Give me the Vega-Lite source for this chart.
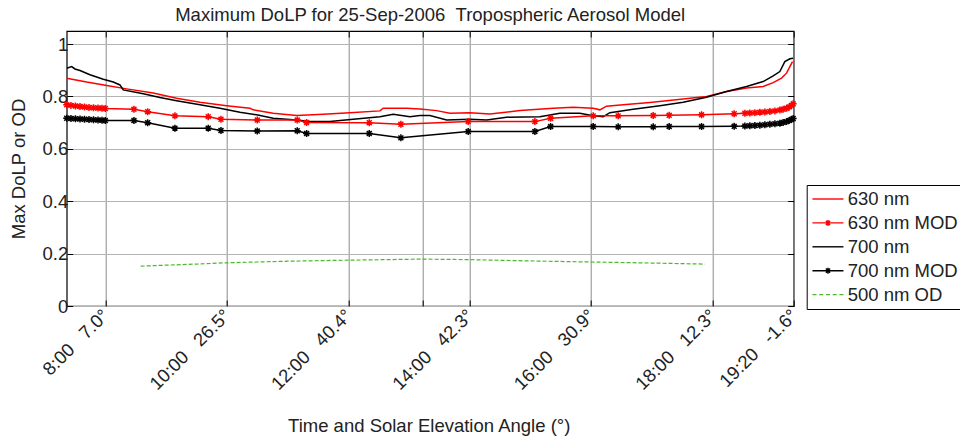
{
  "$schema": "https://vega.github.io/schema/vega-lite/v6.json",
  "width": 727,
  "height": 275,
  "autosize": {"type": "none"},
  "padding": {"left": 66.7, "top": 31, "right": 166.3, "bottom": 134},
  "background": "white",
  "title": {"text": "Maximum DoLP for 25-Sep-2006\u00a0\u00a0Tropospheric Aerosol Model", "fontSize": 18.5, "font": "Liberation Sans", "fontWeight": "normal", "color": "#222", "anchor": "middle", "baseline": "alphabetic", "offset": 10, "dy": 19},
  "config": {"view": {"stroke": "#000", "strokeWidth": 1.2}, "font": "Liberation Sans"},
  "datasets": {
    "d": [
      {"series": "630 nm", "time": 7.365, "value": 0.870},
      {"series": "630 nm", "time": 7.694, "value": 0.855},
      {"series": "630 nm", "time": 8.023, "value": 0.842},
      {"series": "630 nm", "time": 8.352, "value": 0.829},
      {"series": "630 nm", "time": 8.790, "value": 0.813},
      {"series": "630 nm", "time": 9.175, "value": 0.793},
      {"series": "630 nm", "time": 9.559, "value": 0.778},
      {"series": "630 nm", "time": 9.998, "value": 0.765},
      {"series": "630 nm", "time": 10.382, "value": 0.755},
      {"series": "630 nm", "time": 10.436, "value": 0.749},
      {"series": "630 nm", "time": 10.765, "value": 0.736},
      {"series": "630 nm", "time": 11.151, "value": 0.727},
      {"series": "630 nm", "time": 11.588, "value": 0.732},
      {"series": "630 nm", "time": 12.028, "value": 0.738},
      {"series": "630 nm", "time": 12.522, "value": 0.745},
      {"series": "630 nm", "time": 12.576, "value": 0.755},
      {"series": "630 nm", "time": 12.961, "value": 0.755},
      {"series": "630 nm", "time": 13.180, "value": 0.752},
      {"series": "630 nm", "time": 13.455, "value": 0.746},
      {"series": "630 nm", "time": 13.674, "value": 0.736},
      {"series": "630 nm", "time": 14.003, "value": 0.738},
      {"series": "630 nm", "time": 14.333, "value": 0.733},
      {"series": "630 nm", "time": 14.827, "value": 0.746},
      {"series": "630 nm", "time": 15.375, "value": 0.755},
      {"series": "630 nm", "time": 15.704, "value": 0.759},
      {"series": "630 nm", "time": 16.033, "value": 0.755},
      {"series": "630 nm", "time": 16.143, "value": 0.749},
      {"series": "630 nm", "time": 16.253, "value": 0.763},
      {"series": "630 nm", "time": 16.527, "value": 0.768},
      {"series": "630 nm", "time": 16.966, "value": 0.777},
      {"series": "630 nm", "time": 17.514, "value": 0.790},
      {"series": "630 nm", "time": 17.899, "value": 0.800},
      {"series": "630 nm", "time": 18.229, "value": 0.819},
      {"series": "630 nm", "time": 18.558, "value": 0.832},
      {"series": "630 nm", "time": 18.831, "value": 0.838},
      {"series": "630 nm", "time": 18.996, "value": 0.853},
      {"series": "630 nm", "time": 19.134, "value": 0.870},
      {"series": "630 nm", "time": 19.216, "value": 0.889},
      {"series": "630 nm", "time": 19.271, "value": 0.914},
      {"series": "630 nm", "time": 19.315, "value": 0.933},

      {"series": "700 nm", "time": 7.365, "value": 0.908},
      {"series": "700 nm", "time": 7.447, "value": 0.914},
      {"series": "700 nm", "time": 7.501, "value": 0.905},
      {"series": "700 nm", "time": 7.584, "value": 0.899},
      {"series": "700 nm", "time": 7.748, "value": 0.883},
      {"series": "700 nm", "time": 7.967, "value": 0.866},
      {"series": "700 nm", "time": 8.132, "value": 0.855},
      {"series": "700 nm", "time": 8.242, "value": 0.844},
      {"series": "700 nm", "time": 8.296, "value": 0.825},
      {"series": "700 nm", "time": 8.626, "value": 0.810},
      {"series": "700 nm", "time": 8.900, "value": 0.796},
      {"series": "700 nm", "time": 9.175, "value": 0.784},
      {"series": "700 nm", "time": 9.559, "value": 0.768},
      {"series": "700 nm", "time": 9.888, "value": 0.755},
      {"series": "700 nm", "time": 10.217, "value": 0.740},
      {"series": "700 nm", "time": 10.492, "value": 0.730},
      {"series": "700 nm", "time": 10.765, "value": 0.717},
      {"series": "700 nm", "time": 11.151, "value": 0.710},
      {"series": "700 nm", "time": 11.370, "value": 0.704},
      {"series": "700 nm", "time": 11.699, "value": 0.704},
      {"series": "700 nm", "time": 12.082, "value": 0.713},
      {"series": "700 nm", "time": 12.522, "value": 0.723},
      {"series": "700 nm", "time": 12.741, "value": 0.732},
      {"series": "700 nm", "time": 13.016, "value": 0.723},
      {"series": "700 nm", "time": 13.180, "value": 0.727},
      {"series": "700 nm", "time": 13.345, "value": 0.727},
      {"series": "700 nm", "time": 13.620, "value": 0.710},
      {"series": "700 nm", "time": 14.003, "value": 0.713},
      {"series": "700 nm", "time": 14.278, "value": 0.710},
      {"series": "700 nm", "time": 14.607, "value": 0.721},
      {"series": "700 nm", "time": 15.155, "value": 0.723},
      {"series": "700 nm", "time": 15.485, "value": 0.736},
      {"series": "700 nm", "time": 15.814, "value": 0.736},
      {"series": "700 nm", "time": 16.033, "value": 0.726},
      {"series": "700 nm", "time": 16.198, "value": 0.723},
      {"series": "700 nm", "time": 16.308, "value": 0.738},
      {"series": "700 nm", "time": 16.691, "value": 0.751},
      {"series": "700 nm", "time": 17.131, "value": 0.765},
      {"series": "700 nm", "time": 17.514, "value": 0.778},
      {"series": "700 nm", "time": 17.899, "value": 0.797},
      {"series": "700 nm", "time": 18.229, "value": 0.819},
      {"series": "700 nm", "time": 18.558, "value": 0.838},
      {"series": "700 nm", "time": 18.831, "value": 0.857},
      {"series": "700 nm", "time": 18.996, "value": 0.879},
      {"series": "700 nm", "time": 19.106, "value": 0.895},
      {"series": "700 nm", "time": 19.188, "value": 0.933},
      {"series": "700 nm", "time": 19.271, "value": 0.944},
      {"series": "700 nm", "time": 19.325, "value": 0.946},

      {"series": "630 nm MOD", "time": 7.365, "value": 0.768},
      {"series": "630 nm MOD", "time": 7.435, "value": 0.766},
      {"series": "630 nm MOD", "time": 7.509, "value": 0.764},
      {"series": "630 nm MOD", "time": 7.584, "value": 0.762},
      {"series": "630 nm MOD", "time": 7.658, "value": 0.760},
      {"series": "630 nm MOD", "time": 7.732, "value": 0.758},
      {"series": "630 nm MOD", "time": 7.806, "value": 0.757},
      {"series": "630 nm MOD", "time": 7.880, "value": 0.756},
      {"series": "630 nm MOD", "time": 7.946, "value": 0.755},
      {"series": "630 nm MOD", "time": 8.000, "value": 0.754},
      {"series": "630 nm MOD", "time": 8.472, "value": 0.751},
      {"series": "630 nm MOD", "time": 8.698, "value": 0.742},
      {"series": "630 nm MOD", "time": 9.147, "value": 0.726},
      {"series": "630 nm MOD", "time": 9.695, "value": 0.723},
      {"series": "630 nm MOD", "time": 9.905, "value": 0.713},
      {"series": "630 nm MOD", "time": 10.502, "value": 0.710},
      {"series": "630 nm MOD", "time": 11.160, "value": 0.710},
      {"series": "630 nm MOD", "time": 11.315, "value": 0.701},
      {"series": "630 nm MOD", "time": 12.346, "value": 0.700},
      {"series": "630 nm MOD", "time": 12.867, "value": 0.694},
      {"series": "630 nm MOD", "time": 13.975, "value": 0.704},
      {"series": "630 nm MOD", "time": 15.073, "value": 0.704},
      {"series": "630 nm MOD", "time": 15.332, "value": 0.717},
      {"series": "630 nm MOD", "time": 16.033, "value": 0.726},
      {"series": "630 nm MOD", "time": 16.444, "value": 0.726},
      {"series": "630 nm MOD", "time": 17.021, "value": 0.727},
      {"series": "630 nm MOD", "time": 17.284, "value": 0.728},
      {"series": "630 nm MOD", "time": 17.817, "value": 0.730},
      {"series": "630 nm MOD", "time": 18.354, "value": 0.734},
      {"series": "630 nm MOD", "time": 18.530, "value": 0.736},
      {"series": "630 nm MOD", "time": 18.612, "value": 0.737},
      {"series": "630 nm MOD", "time": 18.695, "value": 0.738},
      {"series": "630 nm MOD", "time": 18.777, "value": 0.740},
      {"series": "630 nm MOD", "time": 18.860, "value": 0.741},
      {"series": "630 nm MOD", "time": 18.942, "value": 0.743},
      {"series": "630 nm MOD", "time": 19.025, "value": 0.745},
      {"series": "630 nm MOD", "time": 19.107, "value": 0.748},
      {"series": "630 nm MOD", "time": 19.160, "value": 0.751},
      {"series": "630 nm MOD", "time": 19.217, "value": 0.755},
      {"series": "630 nm MOD", "time": 19.259, "value": 0.760},
      {"series": "630 nm MOD", "time": 19.299, "value": 0.766},
      {"series": "630 nm MOD", "time": 19.325, "value": 0.772},

      {"series": "700 nm MOD", "time": 7.365, "value": 0.717},
      {"series": "700 nm MOD", "time": 7.435, "value": 0.716},
      {"series": "700 nm MOD", "time": 7.509, "value": 0.715},
      {"series": "700 nm MOD", "time": 7.584, "value": 0.714},
      {"series": "700 nm MOD", "time": 7.658, "value": 0.713},
      {"series": "700 nm MOD", "time": 7.732, "value": 0.712},
      {"series": "700 nm MOD", "time": 7.806, "value": 0.711},
      {"series": "700 nm MOD", "time": 7.880, "value": 0.710},
      {"series": "700 nm MOD", "time": 7.946, "value": 0.709},
      {"series": "700 nm MOD", "time": 8.000, "value": 0.708},
      {"series": "700 nm MOD", "time": 8.472, "value": 0.708},
      {"series": "700 nm MOD", "time": 8.698, "value": 0.700},
      {"series": "700 nm MOD", "time": 9.147, "value": 0.679},
      {"series": "700 nm MOD", "time": 9.695, "value": 0.679},
      {"series": "700 nm MOD", "time": 9.905, "value": 0.670},
      {"series": "700 nm MOD", "time": 10.502, "value": 0.668},
      {"series": "700 nm MOD", "time": 11.160, "value": 0.669},
      {"series": "700 nm MOD", "time": 11.315, "value": 0.659},
      {"series": "700 nm MOD", "time": 12.346, "value": 0.659},
      {"series": "700 nm MOD", "time": 12.867, "value": 0.642},
      {"series": "700 nm MOD", "time": 13.975, "value": 0.666},
      {"series": "700 nm MOD", "time": 15.073, "value": 0.666},
      {"series": "700 nm MOD", "time": 15.332, "value": 0.685},
      {"series": "700 nm MOD", "time": 16.033, "value": 0.685},
      {"series": "700 nm MOD", "time": 16.444, "value": 0.684},
      {"series": "700 nm MOD", "time": 17.021, "value": 0.684},
      {"series": "700 nm MOD", "time": 17.284, "value": 0.685},
      {"series": "700 nm MOD", "time": 17.817, "value": 0.685},
      {"series": "700 nm MOD", "time": 18.354, "value": 0.686},
      {"series": "700 nm MOD", "time": 18.530, "value": 0.687},
      {"series": "700 nm MOD", "time": 18.612, "value": 0.688},
      {"series": "700 nm MOD", "time": 18.695, "value": 0.689},
      {"series": "700 nm MOD", "time": 18.777, "value": 0.690},
      {"series": "700 nm MOD", "time": 18.860, "value": 0.692},
      {"series": "700 nm MOD", "time": 18.942, "value": 0.694},
      {"series": "700 nm MOD", "time": 19.025, "value": 0.696},
      {"series": "700 nm MOD", "time": 19.107, "value": 0.698},
      {"series": "700 nm MOD", "time": 19.160, "value": 0.701},
      {"series": "700 nm MOD", "time": 19.217, "value": 0.704},
      {"series": "700 nm MOD", "time": 19.259, "value": 0.708},
      {"series": "700 nm MOD", "time": 19.299, "value": 0.712},
      {"series": "700 nm MOD", "time": 19.325, "value": 0.716},

      {"series": "500 nm OD", "time": 8.583, "value": 0.152},
      {"series": "500 nm OD", "time": 9.0, "value": 0.156},
      {"series": "500 nm OD", "time": 9.5, "value": 0.160},
      {"series": "500 nm OD", "time": 10.0, "value": 0.165},
      {"series": "500 nm OD", "time": 10.5, "value": 0.168},
      {"series": "500 nm OD", "time": 11.0, "value": 0.171},
      {"series": "500 nm OD", "time": 12.0, "value": 0.175},
      {"series": "500 nm OD", "time": 12.6, "value": 0.177},
      {"series": "500 nm OD", "time": 13.2, "value": 0.179},
      {"series": "500 nm OD", "time": 14.0, "value": 0.177},
      {"series": "500 nm OD", "time": 15.0, "value": 0.172},
      {"series": "500 nm OD", "time": 16.0, "value": 0.168},
      {"series": "500 nm OD", "time": 17.0, "value": 0.164},
      {"series": "500 nm OD", "time": 17.87, "value": 0.160}
    ]
  },
  "data": {"name": "d"},
  "resolve": {"axis": {"x": "independent", "y": "independent"}},
  "layer": [
    {
      "mark": {"type": "point", "filled": false, "opacity": 0},
      "encoding": {
        "x": {"field": "time", "type": "quantitative",
          "scale": {"domain": [7.365, 19.334], "nice": false, "zero": false},
          "axis": {"orient": "top", "values": [8, 10, 12, 13.225, 14, 16, 18, 19.3333], "labels": false, "grid": false, "domain": false, "ticks": true, "tickSize": -6, "tickColor": "#000", "title": null}},
        "y": {"field": "value", "type": "quantitative",
          "scale": {"domain": [0, 1.05], "nice": false, "zero": false},
          "axis": {"orient": "right", "values": [0, 0.2, 0.4, 0.6, 0.8, 1], "labels": false, "grid": false, "domain": false, "ticks": true, "tickSize": -6, "tickColor": "#000", "title": null}},
        "color": {
          "field": "series", "type": "nominal",
          "scale": {"domain": ["630 nm", "630 nm MOD", "700 nm", "700 nm MOD", "500 nm OD"], "range": ["#ff0000", "#ff0000", "#000000", "#000000", "#4cb82c"]},
          "legend": {
            "title": null, "orient": "none", "legendX": 740, "legendY": 154,
            "strokeColor": "#000", "fillColor": "#fff", "padding": 4.75,
            "symbolSize": 100, "symbolStrokeWidth": 1.4, "symbolOffset": 7.25, "rowPadding": 4.9,
            "labelOffset": 10.5, "labelFontSize": 18.5, "labelFont": "Liberation Sans", "labelColor": "#222", "labelLimit": 0,
            "encode": {"symbols": {"update": {"opacity": {"value": 1}, "fill": {"value": "transparent"}}}}
          }
        },
        "shape": {
          "field": "series", "type": "nominal",
          "scale": {
            "domain": ["630 nm", "630 nm MOD", "700 nm", "700 nm MOD", "500 nm OD"],
            "range": [
              "M-3.1,0L3.1,0",
              "M-3.1,0L3.1,0M-0.6,0L0.6,0M0,-0.6L0,0.6M-0.42,-0.42L0.42,0.42M-0.42,0.42L0.42,-0.42",
              "M-3.1,0L3.1,0",
              "M-3.1,0L3.1,0M-0.6,0L0.6,0M0,-0.6L0,0.6M-0.42,-0.42L0.42,0.42M-0.42,0.42L0.42,-0.42",
              "M-3.1,0L-2.3,0M-1.75,0L-0.95,0M-0.4,0L0.4,0M0.95,0L1.75,0M2.3,0L3.1,0"
            ]
          },
          "legend": {
            "title": null, "orient": "none", "legendX": 740, "legendY": 154,
            "strokeColor": "#000", "fillColor": "#fff", "padding": 4.75,
            "symbolSize": 100, "symbolStrokeWidth": 1.4, "symbolOffset": 7.25, "rowPadding": 4.9,
            "labelOffset": 10.5, "labelFontSize": 18.5, "labelFont": "Liberation Sans", "labelColor": "#222", "labelLimit": 0,
            "encode": {"symbols": {"update": {"opacity": {"value": 1}, "fill": {"value": "transparent"}}}}
          }
        }
      }
    },
    {
      "transform": [{"filter": "datum.series != '500 nm OD'"}],
      "mark": {"type": "line", "strokeWidth": 1.5, "clip": true},
      "encoding": {
        "x": {
          "field": "time", "type": "quantitative",
          "axis": {
            "values": [8, 10, 12, 13.225, 14, 16, 18, 19.3333],
            "labelExpr": "datum.value < 9 ? '8:00\u00a0\u00a0\u00a07.0°' : datum.value < 11 ? '10:00\u00a0\u00a0\u00a026.5°' : datum.value < 13 ? '12:00\u00a0\u00a0\u00a040.4°' : datum.value < 13.5 ? '' : datum.value < 15 ? '14:00\u00a0\u00a0\u00a042.3°' : datum.value < 17 ? '16:00\u00a0\u00a0\u00a030.9°' : datum.value < 19 ? '18:00\u00a0\u00a0\u00a012.3°' : '19:20\u00a0\u00a0\u00a0-1.6°'",
            "labelAngle": -45, "labelAlign": "right", "labelBaseline": "middle", "labelPadding": 12,
            "labelFontSize": 18.5, "labelFont": "Liberation Sans", "labelColor": "#222",
            "labelOverlap": false, "labelBound": false, "labelFlush": false,
            "grid": true, "gridColor": "#8c8c8c", "gridWidth": 1,
            "domain": false, "ticks": true, "tickSize": -6, "tickColor": "#000", "tickWidth": 1,
            "title": "Time and Solar Elevation Angle (°)", "titleFontSize": 18.5, "titleFont": "Liberation Sans",
            "titleFontWeight": "normal", "titleColor": "#222", "titleX": 362, "titleY": 125.8,
            "titleBaseline": "alphabetic", "titleAlign": "center"
          }
        },
        "y": {
          "field": "value", "type": "quantitative",
          "axis": {
            "values": [0, 0.2, 0.4, 0.6, 0.8, 1],
            "labelExpr": "datum.value == 0 ? '0' : datum.value == 1 ? '1' : format(datum.value, '.1f')",
            "labelFontSize": 18.5, "labelFont": "Liberation Sans", "labelColor": "#222", "labelPadding": 5,
            "labelBaseline": "middle",
            "grid": true, "gridColor": "#b4b4b4", "gridWidth": 1,
            "domain": false, "ticks": true, "tickSize": -6, "tickColor": "#000", "tickWidth": 1,
            "title": "Max DoLP or OD", "titleFontSize": 18.5, "titleFont": "Liberation Sans",
            "titleFontWeight": "normal", "titleColor": "#222", "titleX": -41.7, "titleY": 137.5,
            "titleBaseline": "alphabetic", "titleAlign": "center", "titleAngle": 270
          }
        },
        "color": {"field": "series", "type": "nominal"}
      }
    },
    {
      "transform": [{"filter": "datum.series == '500 nm OD'"}],
      "mark": {"type": "line", "strokeWidth": 1.2, "strokeDash": [4, 2], "clip": true},
      "encoding": {
        "x": {"field": "time", "type": "quantitative", "axis": null},
        "y": {"field": "value", "type": "quantitative", "axis": null},
        "color": {"field": "series", "type": "nominal"}
      }
    },
    {
      "transform": [{"filter": "indexof(datum.series, 'MOD') >= 0"}],
      "mark": {"type": "point", "shape": "M-1,0L1,0M0,-1L0,1M-0.7,-0.7L0.7,0.7M-0.7,0.7L0.7,-0.7", "filled": false, "size": 49, "strokeWidth": 1.5, "opacity": 1},
      "encoding": {
        "x": {"field": "time", "type": "quantitative", "axis": null},
        "y": {"field": "value", "type": "quantitative", "axis": null},
        "color": {"field": "series", "type": "nominal"}
      }
    }
  ]
}
